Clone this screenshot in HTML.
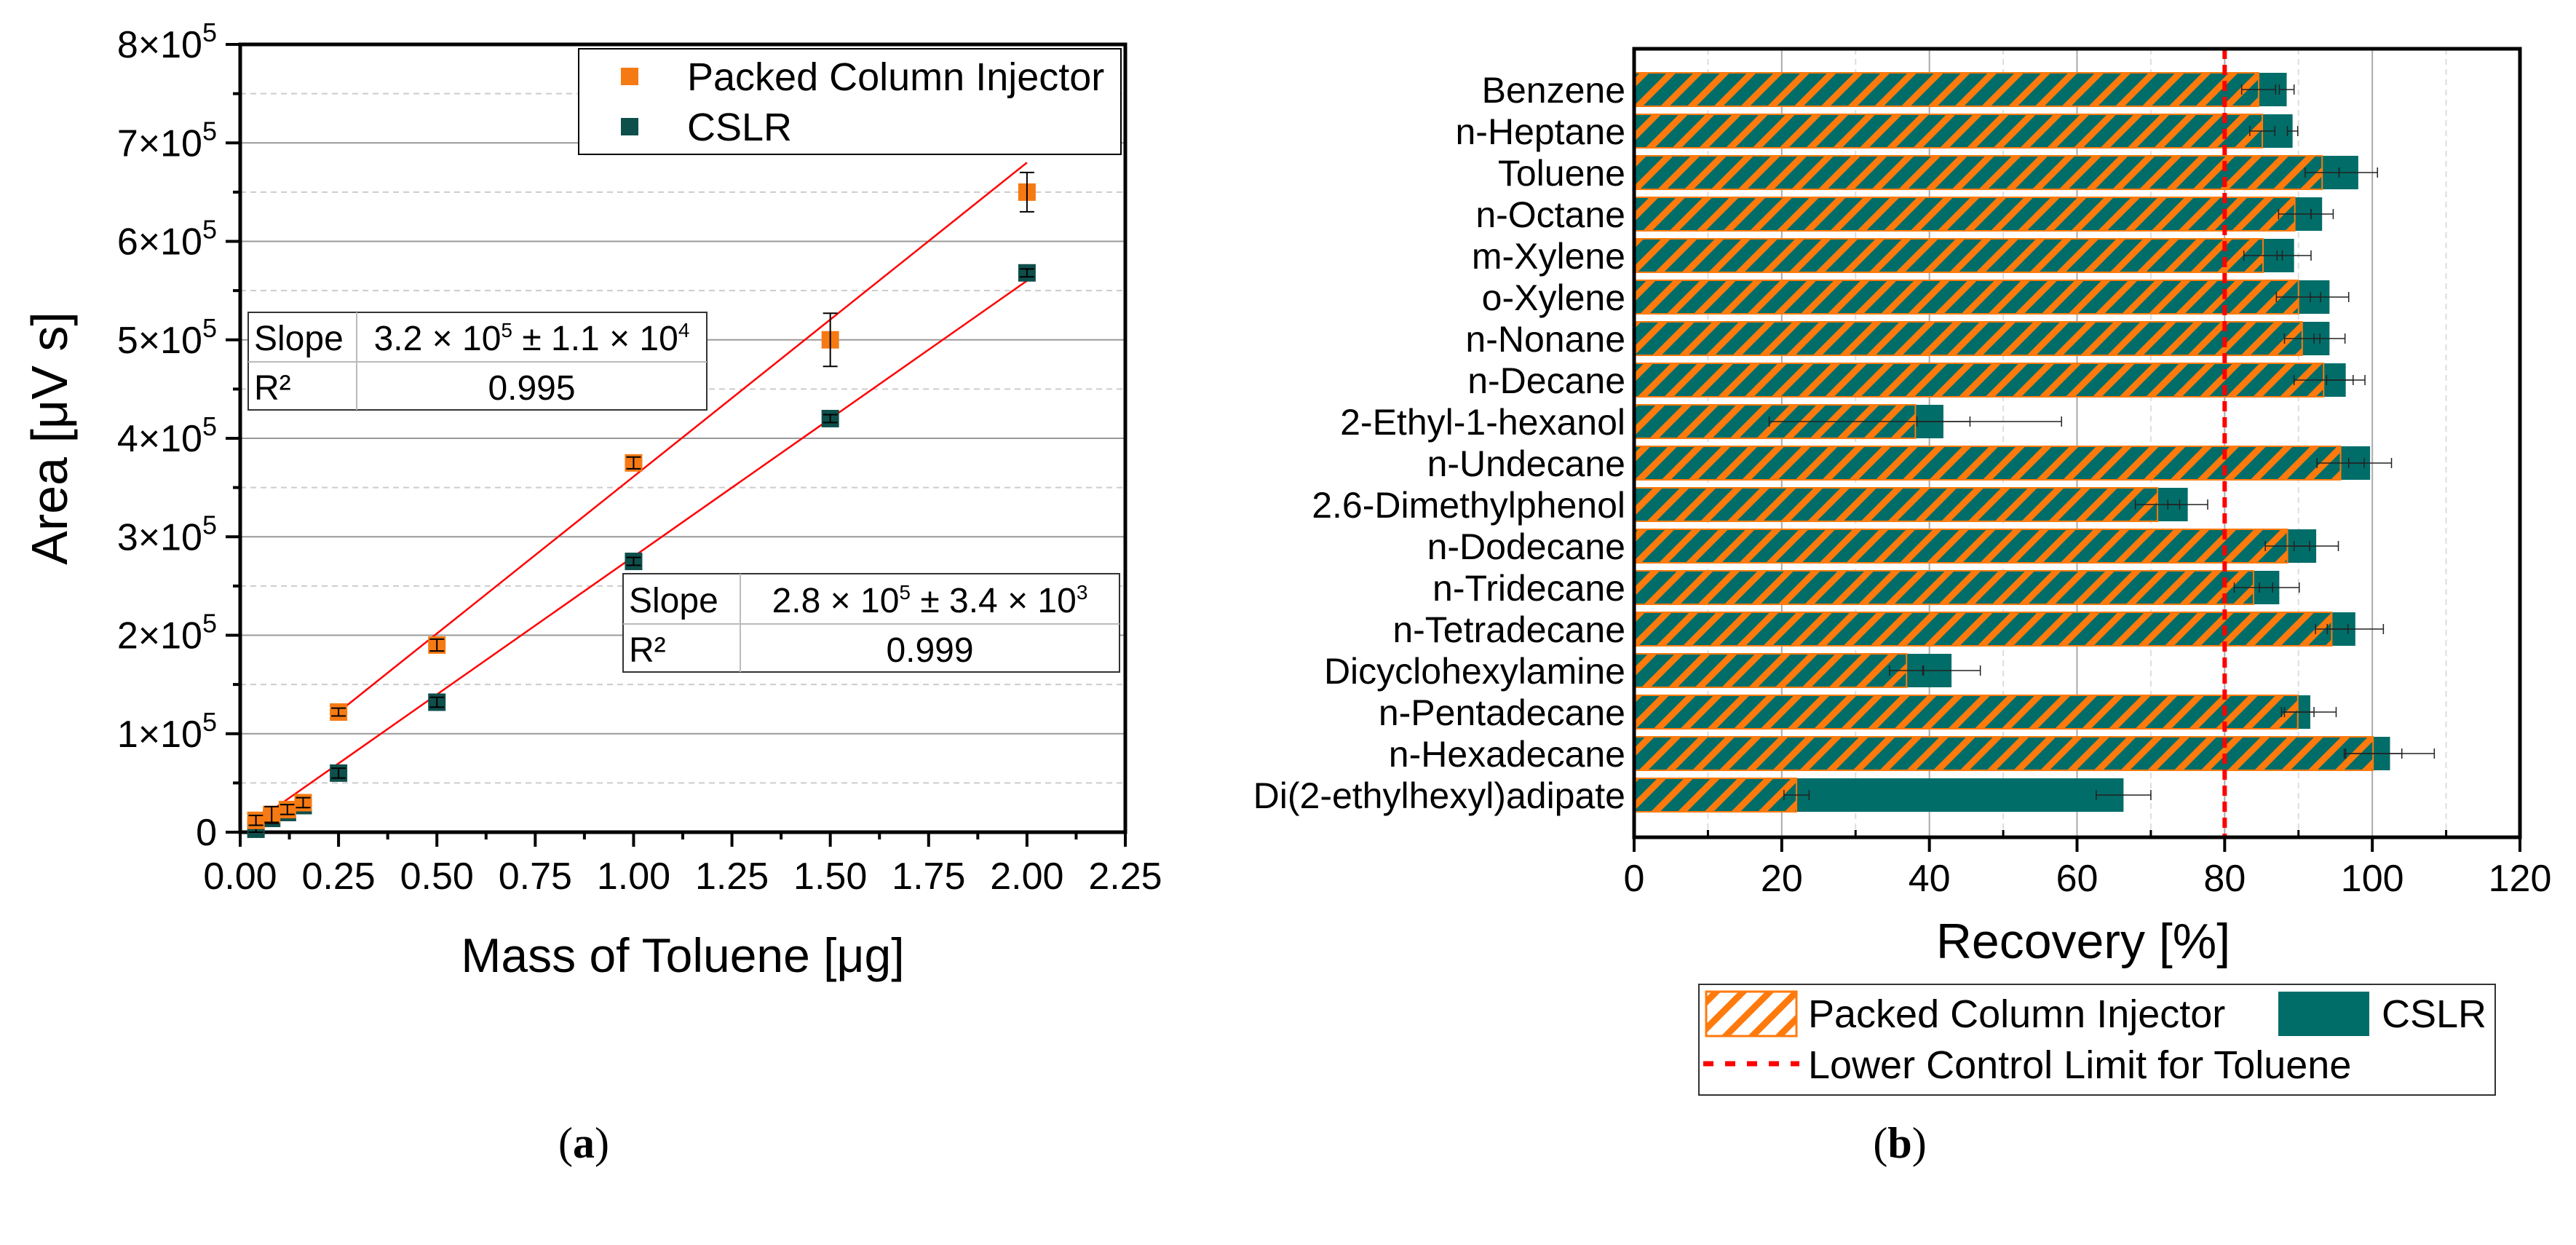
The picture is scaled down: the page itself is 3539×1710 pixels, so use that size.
<!DOCTYPE html>
<html><head><meta charset="utf-8"><style>
html,body{margin:0;padding:0;background:#fff}
svg{display:block;font-family:"Liberation Sans",Arial,sans-serif}
</style></head><body>
<svg id="fig" width="3539" height="1710" viewBox="0 0 3539 1710" xmlns="http://www.w3.org/2000/svg">
<defs>
<pattern id="hatch" patternUnits="userSpaceOnUse" width="26" height="26" patternTransform="rotate(45)">
<rect x="0" y="0" width="9" height="26" fill="#ff7a0d"/>
</pattern>
</defs>
<g id="chartA"></g>
<g id="chartB"></g>
<text x="802" y="1590" text-anchor="middle" font-family="Liberation Serif,serif" font-size="60">(<tspan font-weight="bold">a</tspan>)</text>
<text x="2610" y="1590" text-anchor="middle" font-family="Liberation Serif,serif" font-size="60">(<tspan font-weight="bold">b</tspan>)</text>
</svg>
<script>
// ---- Chart A data ----
const massX = [0.04, 0.08, 0.12, 0.16, 0.25, 0.5, 1.0, 1.5, 2.0];
const packedArea = [0.12, 0.18, 0.23, 0.30, 1.22, 1.90, 3.75, 5.00, 6.50];
const packedErr = [0.05, 0.08, 0.05, 0.05, 0.04, 0.06, 0.06, 0.27, 0.20];
const cslrArea = [0.03, 0.14, 0.20, 0.27, 0.60, 1.32, 2.75, 4.20, 5.68];
const cslrErr = [0.03, 0.05, 0.04, 0.04, 0.05, 0.05, 0.04, 0.04, 0.04];
const xTicksA = ["0.00","0.25","0.50","0.75","1.00","1.25","1.50","1.75","2.00","2.25"];
const yTicksA = [0,1,2,3,4,5,6,7,8];
const fitPacked = [0.25, 1.22, 2.0, 6.80];
const fitCslr = [0.04, 0.11, 2.0, 5.60];

// ---- Chart B data ----
const compounds = ["Benzene","n-Heptane","Toluene","n-Octane","m-Xylene","o-Xylene","n-Nonane","n-Decane","2-Ethyl-1-hexanol","n-Undecane","2.6-Dimethylphenol","n-Dodecane","n-Tridecane","n-Tetradecane","Dicyclohexylamine","n-Pentadecane","n-Hexadecane","Di(2-ethylhexyl)adipate"];
const packedRec = [84.6,85.1,93.2,89.5,85.2,90.0,90.5,93.4,38.1,95.7,70.9,88.5,83.9,94.5,36.9,89.9,100.1,22.0];
const packedRecErr = [2.3,1.7,2.3,2.2,2.6,3.0,2.4,4.0,19.8,3.2,3.0,3.0,2.6,2.2,2.3,2.2,3.9,1.7];
const cslrRec = [88.4,89.2,98.1,93.2,89.4,94.2,94.2,96.4,41.9,99.7,75.0,92.4,87.4,97.7,43.0,91.6,102.4,66.3];
const cslrRecErr = [1.0,0.7,2.6,1.5,2.3,2.6,2.1,2.6,3.6,2.9,2.7,3.0,2.7,3.8,3.9,3.5,6.0,3.7];
const xTicksB = [0,20,40,60,80,100,120];
const controlLimit = 80;

const NS="http://www.w3.org/2000/svg";
function mk(tag, attrs, parent){const e=document.createElementNS(NS,tag);for(const k in attrs)e.setAttribute(k,attrs[k]);parent.appendChild(e);return e;}

// ===== Chart A =====
(function(){
const g=document.getElementById('chartA');
const L=330,R=1546,T=61,B=1143;
const xs=v=>L+(v/2.25)*(R-L);
const ys=v=>B-(v/8)*(B-T);
for(let i=0;i<16;i++){const v=i*0.5;if(v===0)continue;
 const ln=mk('line',{x1:L,x2:R,y1:ys(v),y2:ys(v),stroke:i%2===0?'#999':'#ccc','stroke-width':2,'stroke-dasharray':i%2===0?'':'8,6'},g);
 
 }
yTicksA.forEach(v=>{
 const t=mk('line',{x1:L-20,x2:L,y1:ys(v),y2:ys(v),stroke:'#000','stroke-width':4},g);
 
 
 const tx=mk('text',{x:L-32,y:ys(v)+18,'text-anchor':'end','font-size':52},g);
 
 
 if(v===0){tx.textContent='0';}else{tx.textContent=v+'×10';const s=mk('tspan',{dy:-22,'font-size':36},tx);s.textContent='5';}
 if(v<8){const m=mk('line',{x1:L-10,x2:L,y1:ys(v+0.5),y2:ys(v+0.5),stroke:'#000','stroke-width':4},g);
 
 }
});
xTicksA.forEach((lab,i)=>{const v=i*0.25;
 const t=mk('line',{x1:xs(v),x2:xs(v),y1:B,y2:B+20,stroke:'#000','stroke-width':4},g);
 
 
 const tx=mk('text',{x:xs(v),y:B+78,'text-anchor':'middle','font-size':52},g);
 
 
 tx.textContent=lab;
 if(i<9){const m=mk('line',{x1:xs(v+0.125),x2:xs(v+0.125),y1:B,y2:B+10,stroke:'#000','stroke-width':4},g);
 
 }
});
const fr=mk('rect',{x:L,y:T,width:R-L,height:B-T,fill:'none',stroke:'#000','stroke-width':5},g);


[[fitPacked,'fit-line-packed'],[fitCslr,'fit-line-cslr']].forEach(([f,n])=>{
 const l=mk('line',{x1:xs(f[0]),y1:ys(f[1]),x2:xs(f[2]),y2:ys(f[3]),stroke:'#ff0000','stroke-width':2.5},g);
 
 
});
function series(vals,errs,color,name){
 massX.forEach((x,i)=>{
  const cx=xs(x),cy=ys(vals[i]);
  const r=mk('rect',{x:cx-12,y:cy-12,width:24,height:24,fill:color},g);
  
  
  const e1=ys(vals[i]+errs[i]),e2=ys(vals[i]-errs[i]);
  const p=mk('path',{d:`M${cx},${e1}V${e2}M${cx-10},${e1}H${cx+10}M${cx-10},${e2}H${cx+10}`,stroke:'#000','stroke-width':2,fill:'none'},g);
  
  
 });
}
series(cslrArea,cslrErr,'#0e4f4b','cslr');
series(packedArea,packedErr,'#f57a14','packed');
const yt=mk('text',{x:0,y:0,transform:`translate(92,${(T+B)/2}) rotate(-90)`,'text-anchor':'middle','font-size':70},g);


yt.textContent='Area [μV s]';
const xt=mk('text',{x:(L+R)/2,y:1335,'text-anchor':'middle','font-size':66},g);


xt.textContent='Mass of Toluene [μg]';
const lg=mk('g',{},g);


mk('rect',{x:795,y:67,width:745,height:145,fill:'#fff',stroke:'#000','stroke-width':2},lg);
[['#f57a14','Packed Column Injector',105],['#0e4f4b','CSLR',174]].forEach(([c,t,y])=>{
 const s=mk('rect',{x:853,y:y-12,width:24,height:24,fill:c},lg);
 
 
 const tx=mk('text',{x:944,y:y+19,'font-size':54},lg);
 
 
 tx.textContent=t;
});
function table(x0,xm,x1,y0,ym,y1,slopeMain,slopeExp1,slopeMid,slopeExp2,r2,name){
 const tg=mk('g',{},g);
 
 
 mk('rect',{x:x0,y:y0,width:x1-x0,height:y1-y0,fill:'#fff',stroke:'#333','stroke-width':2},tg);
 mk('line',{x1:x0,x2:x1,y1:ym,y2:ym,stroke:'#bbb','stroke-width':2},tg);
 mk('line',{x1:xm,x2:xm,y1:y0,y2:y1,stroke:'#bbb','stroke-width':2},tg);
 const a=mk('text',{x:x0+8,y:ym-16,'font-size':48},tg);a.textContent='Slope';
 const b=mk('text',{x:x0+8,y:y1-14,'font-size':48},tg);b.textContent='R²';
 const c=mk('text',{x:(xm+x1)/2,y:ym-16,'text-anchor':'middle','font-size':48},tg);
 c.appendChild(document.createTextNode(slopeMain));
 let s=mk('tspan',{dy:-18,'font-size':28},c);s.textContent=slopeExp1;
 s=mk('tspan',{dy:18},c);s.textContent=slopeMid;
 s=mk('tspan',{dy:-18,'font-size':28},c);s.textContent=slopeExp2;
 const d=mk('text',{x:(xm+x1)/2,y:y1-14,'text-anchor':'middle','font-size':48},tg);d.textContent=r2;
}
table(341,490,971,429,497,563,'3.2 × 10','5',' ± 1.1 × 10','4','0.995','fit-table-packed');
table(856,1017,1538,788,857,923,'2.8 × 10','5',' ± 3.4 × 10','3','0.999','fit-table-cslr');
})();

// ===== Chart B =====
(function(){
const g=document.getElementById('chartB');
const L=2245,R=3462,T=67,B=1150;
const xs=v=>L+(v/120)*(R-L);
const c0=123,step=57.0,bh=46;
const yc=i=>c0+i*step;
for(let v=10;v<120;v+=10){
 const ln=mk('line',{x1:xs(v),x2:xs(v),y1:T,y2:B,stroke:v%20===0?'#aaa':'#ddd','stroke-width':2,'stroke-dasharray':v%20===0?'':'8,6'},g);
 
 
}
compounds.forEach((name,i)=>{
 const y=yc(i)-bh/2;
 const cb=mk('rect',{x:L,y:y,width:xs(cslrRec[i])-L,height:bh,fill:'#006d68'},g);
 
 
 const pb=mk('rect',{x:L,y:y,width:xs(packedRec[i])-L,height:bh,fill:'url(#hatch)',stroke:'#ff7a0d','stroke-width':2},g);
 
 
 [[packedRec[i],packedRecErr[i]],[cslrRec[i],cslrRecErr[i]]].forEach(([v,e])=>{
  const a=xs(v-e),b=xs(v+e),cy=yc(i);
  const p=mk('path',{d:`M${a},${cy}H${b}M${a},${cy-7}V${cy+7}M${b},${cy-7}V${cy+7}`,stroke:'#222','stroke-width':1.5,fill:'none'},g);
  
  
 });
 const lab=mk('text',{x:L-12,y:yc(i)+18,'text-anchor':'end','font-size':50},g);
 
 
 lab.textContent=name;
});
const cl=mk('line',{x1:xs(controlLimit),x2:xs(controlLimit),y1:T,y2:B,stroke:'#ff0000','stroke-width':6,'stroke-dasharray':'14,8'},g);


xTicksB.forEach(v=>{
 const t=mk('line',{x1:xs(v),x2:xs(v),y1:B,y2:B+20,stroke:'#000','stroke-width':4},g);
 
 
 const tx=mk('text',{x:xs(v),y:B+74,'text-anchor':'middle','font-size':52},g);
 
 
 tx.textContent=v;
 if(v<120){const m=mk('line',{x1:xs(v+10),x2:xs(v+10),y1:B-10,y2:B,stroke:'#000','stroke-width':3},g);
 
 }
});
const fr=mk('rect',{x:L,y:T,width:R-L,height:B-T,fill:'none',stroke:'#000','stroke-width':5},g);


const xt=mk('text',{x:2862,y:1316,'text-anchor':'middle','font-size':68},g);


xt.textContent='Recovery [%]';
const lg=mk('g',{},g);


mk('rect',{x:2334,y:1352,width:1094,height:152,fill:'#fff',stroke:'#333','stroke-width':2},lg);
const h=mk('rect',{x:2344,y:1362,width:124,height:61,fill:'url(#hatch)',stroke:'#ff7a0d','stroke-width':3},lg);


let t=mk('text',{x:2484,y:1411,'font-size':54},lg);t.textContent='Packed Column Injector';
const c=mk('rect',{x:3130,y:1362,width:125,height:61,fill:'#006d68'},lg);


t=mk('text',{x:3272,y:1411,'font-size':54},lg);t.textContent='CSLR';
const dl=mk('line',{x1:2340,x2:2472,y1:1461,y2:1461,stroke:'#ff0000','stroke-width':7,'stroke-dasharray':'14,16'},lg);


t=mk('text',{x:2484,y:1481,'font-size':54},lg);t.textContent='Lower Control Limit for Toluene';
})();
</script>
</body></html>
